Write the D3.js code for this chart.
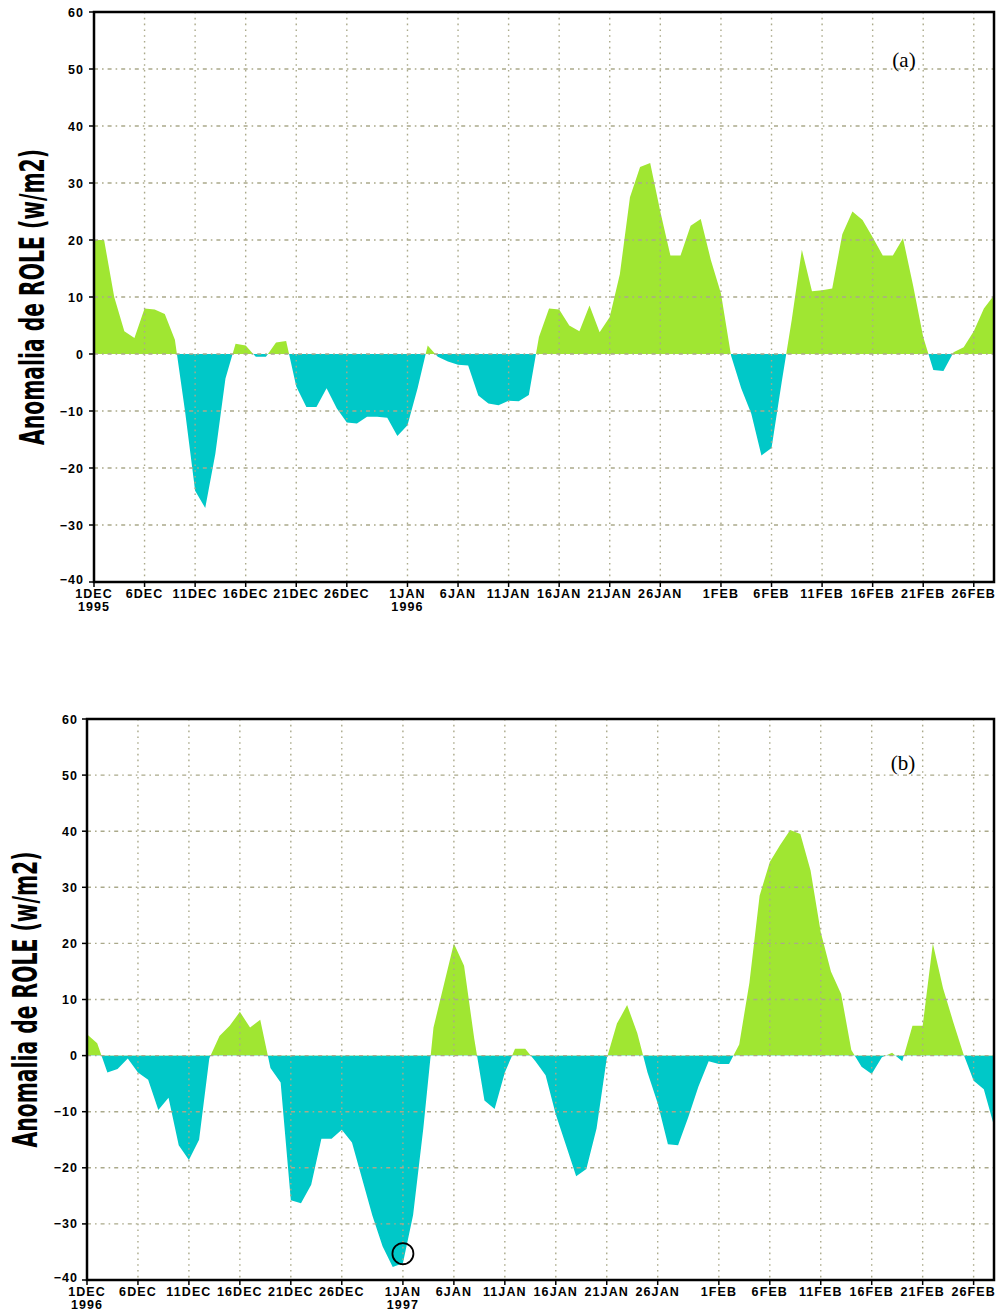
<!DOCTYPE html>
<html>
<head>
<meta charset="utf-8">
<script src="https://cdn.jsdelivr.net/npm/d3@7"></script>
<style>
  body { margin: 0; background: #fff; }
  svg { display: block; }
</style>
</head>
<body>
<svg id="chart" width="1002" height="1312"></svg>
<script>
// Daily OLR anomaly (W/m2), 1 Dec - 28 Feb
const roleA = [
  20, 20, 10, 4, 2.8, 8, 7.8, 7, 2.5, -10,
  -24, -27, -17.5, -4.3, 1.8, 1.5, -0.5, -0.5, 2, 2.3,
  -5.7, -9.3, -9.3, -6, -9.5, -12, -12.2, -11, -11, -11.2,
  -14.4, -12.5, -6, 1.5, -0.5, -1.3, -1.9, -2, -7.3, -8.7,
  -9, -8.2, -8.3, -7.2, 3, 8, 7.8, 5, 4, 8.5,
  3.8, 6.5, 14, 27.5, 32.8, 33.5, 25, 17.3, 17.3, 22.5,
  23.7, 16.5, 10.6, -0.3, -6, -10.5, -17.8, -16.5, -5, 6,
  18.3, 11, 11.2, 11.5, 21, 25, 23.5, 20.5, 17.3, 17.3,
  20.3, 12, 3, -2.8, -3, 0.3, 1.2, 4, 8, 10.3
];
const roleB = [
  3.8, 2.2, -3, -2.4, -0.5, -3, -4.3, -9.7, -7.5, -16,
  -18.6, -15, -0.5, 3.5, 5.3, 7.8, 5, 6.4, -2.2, -4.8,
  -25.8, -26.3, -23, -14.8, -14.8, -13.2, -15.5, -22, -28.5, -34,
  -37.7, -37, -28.4, -13, 5, 12.5, 20, 16, 3, -8,
  -9.5, -3, 1.2, 1.2, -1, -3.5, -10.5, -16, -21.5, -20.2,
  -13, -0.5, 5.7, 9, 4, -3, -8.5, -15.8, -16, -11,
  -5.5, -1, -1.5, -1.5, 2, 13, 28.5, 34.5, 37.5, 40.2,
  39.5, 33, 22, 15, 11, 1, -2, -3.3, -0.3, 0.5,
  -1, 5.3, 5.3, 20, 12, 6, 0.3, -4.5, -6, -12.5
];
const startDates = ["1995-12-01", "1996-12-01"];
const panelTags = ["(a)", "(b)"];
const tickDays = [1, 6, 11, 16, 21, 26];
const monthNames = ["JAN","FEB","MAR","APR","MAY","JUN","JUL","AUG","SEP","OCT","NOV","DEC"];
const yTicks = [-40, -30, -20, -10, 0, 10, 20, 30, 40, 50, 60];
const yTitle = "Anomalia de ROLE (w/m2)";
// circled minimum in panel (b): day index and value
const markB = { day: 31, value: -35.3 };

const colors = { pos: "#a0e632", neg: "#00c8c8", grid: "#aaa98a", axis: "#000" };

const panels = [
  { values: roleA, start: startDates[0], tag: panelTags[0],
    left: 94, right: 994, top: 12, bottom: 582,
    titleX: 44, labelEnd: 84, tagX: 904, tagY: 67 },
  { values: roleB, start: startDates[1], tag: panelTags[1],
    left: 87, right: 994, top: 719, bottom: 1280,
    titleX: 37, labelEnd: 78, tagX: 903, tagY: 770, mark: markB }
];

const svg = d3.select("#chart");
const parse = d3.utcParse("%Y-%m-%d");
const labelFont = "Liberation Sans, Arial, sans-serif";

panels.forEach((p, pi) => {
  const t0 = parse(p.start);
  const dates = p.values.map((_, i) => d3.utcDay.offset(t0, i));
  const data = dates.map((d, i) => ({ date: d, v: p.values[i] }));

  const x = d3.scaleUtc().domain([dates[0], dates[dates.length - 1]]).range([p.left, p.right]);
  const y = d3.scaleLinear().domain([-40, 60]).range([p.bottom, p.top]);

  const g = svg.append("g");

  // clip regions above and below zero
  const clipPos = "clipPos" + pi, clipNeg = "clipNeg" + pi;
  const defs = svg.append("defs");
  defs.append("clipPath").attr("id", clipPos).append("rect")
    .attr("x", p.left).attr("y", p.top).attr("width", p.right - p.left).attr("height", y(0) - p.top);
  defs.append("clipPath").attr("id", clipNeg).append("rect")
    .attr("x", p.left).attr("y", y(0)).attr("width", p.right - p.left).attr("height", p.bottom - y(0));

  const area = d3.area().x(d => x(d.date)).y0(y(0)).y1(d => y(d.v));

  g.append("path").datum(data).attr("d", area)
    .attr("fill", colors.pos).attr("clip-path", `url(#${clipPos})`);
  g.append("path").datum(data).attr("d", area)
    .attr("fill", colors.neg).attr("clip-path", `url(#${clipNeg})`);

  // tick dates: 1, 6, 11, 16, 21, 26 of each month
  const ticks = [];
  d3.utcMonth.range(d3.utcMonth.floor(dates[0]), dates[dates.length - 1]).forEach(m => {
    tickDays.forEach(dd => {
      const t = new Date(Date.UTC(m.getUTCFullYear(), m.getUTCMonth(), dd));
      if (t >= dates[0] && t <= dates[dates.length - 1]) ticks.push(t);
    });
  });

  // grid (drawn over the fills)
  const grid = g.append("g").attr("stroke", colors.grid).attr("stroke-width", 1.4).attr("fill", "none");
  ticks.forEach(t => {
    if (x(t) <= p.left + 1) return;
    grid.append("line").attr("x1", x(t)).attr("x2", x(t)).attr("y1", p.top).attr("y2", p.bottom)
      .attr("stroke-dasharray", "1.6,4.2");
  });
  yTicks.forEach(v => {
    if (v === 60 || v === -40) return;
    grid.append("line").attr("x1", p.left).attr("x2", p.right).attr("y1", y(v)).attr("y2", y(v))
      .attr("stroke-dasharray", "4,4,1.6,4");
  });

  // frame
  g.append("rect").attr("x", p.left).attr("y", p.top)
    .attr("width", p.right - p.left).attr("height", p.bottom - p.top)
    .attr("fill", "none").attr("stroke", colors.axis).attr("stroke-width", 2.5);

  // y axis ticks and labels (lowest label lifted clear of the date labels)
  yTicks.forEach(v => {
    g.append("line").attr("x1", p.left - 5).attr("x2", p.left).attr("y1", y(v)).attr("y2", y(v))
      .attr("stroke", colors.axis).attr("stroke-width", 1.5);
    g.append("text").attr("x", p.labelEnd).attr("y", y(v) + (v === -40 ? 1.5 : 4.5))
      .attr("text-anchor", "end")
      .attr("font-family", labelFont).attr("font-weight", "bold")
      .attr("font-size", 12.5).attr("letter-spacing", 1)
      .text(v < 0 ? "\u2212" + Math.abs(v) : String(v));
  });

  // x axis ticks and labels
  ticks.forEach(t => {
    g.append("line").attr("x1", x(t)).attr("x2", x(t)).attr("y1", p.bottom).attr("y2", p.bottom + 5)
      .attr("stroke", colors.axis).attr("stroke-width", 1.5);
    g.append("text").attr("x", x(t)).attr("y", p.bottom + 16)
      .attr("text-anchor", "middle")
      .attr("font-family", labelFont).attr("font-weight", "bold")
      .attr("font-size", 12.5).attr("letter-spacing", 1.1)
      .text(t.getUTCDate() + monthNames[t.getUTCMonth()]);
    const isYearStart = t.getUTCDate() === 1 && (t.getTime() === dates[0].getTime() || t.getUTCMonth() === 0);
    if (isYearStart) {
      g.append("text").attr("x", x(t)).attr("y", p.bottom + 28.5)
        .attr("text-anchor", "middle")
        .attr("font-family", labelFont).attr("font-weight", "bold")
        .attr("font-size", 12.5).attr("letter-spacing", 1.1)
        .text(t.getUTCFullYear());
    }
  });

  // y title
  const midY = (p.top + p.bottom) / 2;
  g.append("text")
    .attr("transform", `translate(${p.titleX},${midY}) rotate(-90)`)
    .attr("text-anchor", "middle")
    .attr("font-family", "DejaVu Sans Condensed, DejaVu Sans, sans-serif")
    .attr("font-weight", "bold").attr("font-size", 33)
    .attr("textLength", 296).attr("lengthAdjust", "spacingAndGlyphs")
    .text(yTitle);

  // panel tag
  g.append("text").attr("x", p.tagX).attr("y", p.tagY).attr("text-anchor", "middle")
    .attr("font-family", "Liberation Serif, Times New Roman, serif").attr("font-size", 21)
    .text(p.tag);

  // circled point
  if (p.mark) {
    g.append("circle")
      .attr("cx", x(dates[p.mark.day])).attr("cy", y(p.mark.value)).attr("r", 10.5)
      .attr("fill", "none").attr("stroke", "#000").attr("stroke-width", 1.8);
  }
});
</script>
</body>
</html>
